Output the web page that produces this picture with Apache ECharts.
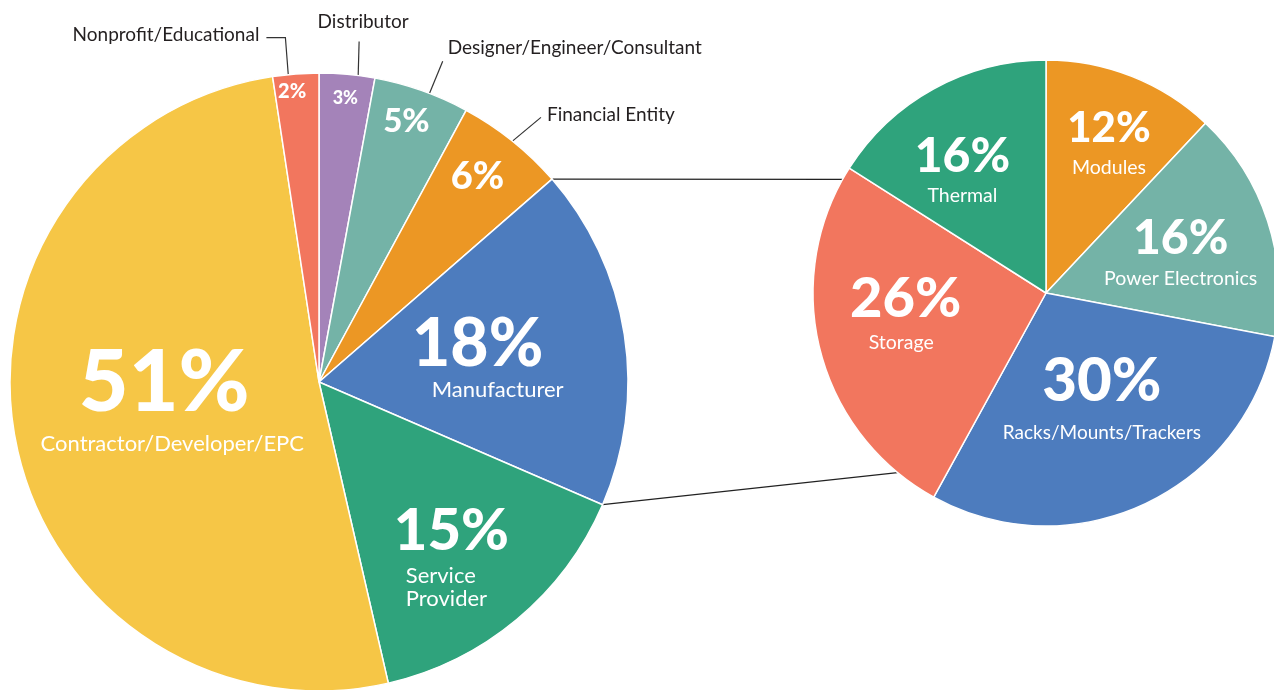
<!DOCTYPE html>
<html>
<head>
<meta charset="utf-8">
<script src="https://cdn.jsdelivr.net/npm/echarts@6/dist/echarts.min.js"></script>
<style>
  html, body { margin: 0; padding: 0; background: #fff; }
  #chart { width: 1274px; height: 690px; }
</style>
</head>
<body>
<div id="chart"></div>
<script>
// data (shares, labels show them rounded)
const leftNames = ['Distributor', 'Designer/Engineer/Consultant', 'Financial Entity', 'Manufacturer', 'Service Provider', 'Contractor/Developer/EPC', 'Nonprofit/Educational']
const leftValues = [2.9, 5.0, 5.7, 17.9, 14.9, 51.2, 2.4]
const rightNames = ['Modules', 'Power Electronics', 'Racks/Mounts/Trackers', 'Storage', 'Thermal']
const rightValues = [12, 16, 30, 26, 16]

// layout / style
const LEFT = { cx: 319, cy: 382, r: 309 }
const RIGHT = { cx: 1046, cy: 293, r: 233 }
const leftColors = ['#A483B9', '#74B3A7', '#EC9724', '#4D7CBE', '#2FA37C', '#F6C646', '#F2765E']
const rightColors = ['#EC9724', '#74B3A7', '#4D7CBE', '#F2765E', '#2FA37C']
const connectAngles = [299.2, 219.6]

const PCT_FONT = 'Lato, "Open Sans", sans-serif'
const NAME_FONT = 'Lato, "Open Sans", sans-serif'

// inner label: pct size / line height, name size / line height, offsets from default inside position
const leftInner = [
  { ps: 18, pl: 20, dx: 12, dy: -127 },
  { ps: 33, pl: 36, dx: 35, dy: -112 },
  { ps: 38, pl: 40, dx: 60, dy: -82 },
  { ps: 66, pl: 64, ns: 22, nl: 26, dx: 13, dy: 0, pPad: [0, 20, 0, 0], nPad: [0, 0, 0, 20] },
  { ps: 58, pl: 67, ns: 22, nl: 23, dx: -26, dy: 51, align: 'left', wrap: true, nPad: [0, 0, 0, 12] },
  { ps: 86, pl: 95, ns: 22, nl: 26, dx: 8, dy: -15, pPad: [0, 16, 0, 0] },
  { ps: 20, pl: 22, dx: -15, dy: -133 }
]
const rightInner = [
  { ps: 42, pl: 54, ns: 19.5, nl: 24, dx: 19, dy: -41 },
  { ps: 48, pl: 57, ns: 19.5, nl: 24, dx: 21, dy: -6 },
  { ps: 60, pl: 78, ns: 19, nl: 24, dx: 5, dy: -7 },
  { ps: 56, pl: 64, ns: 19.5, nl: 24, dx: -29, dy: -12, pPad: [0, 0, 0, 9] },
  { ps: 48, pl: 55, ns: 19.5, nl: 24, dx: -26, dy: -20 }
]
// outside labels for the thin slices of the left pie
const leftOuter = [
  { shift: 2.1, segs: [[1, -36]], off: [4, -10], align: 'center', vAlign: 'bottom' },
  { shift: 1.5, segs: [[14, -34]], off: [5, -13], align: 'left', vAlign: 'middle' },
  { shift: 0, segs: [[30, -25]], off: [6, -3], align: 'left', vAlign: 'middle' },
  null, null, null,
  { shift: -1.4, segs: [[-3, -39], [-19, 0]], off: [-7, -3], align: 'right', vAlign: 'middle' }
]

function polar(c, deg, rad) {
  const a = deg * Math.PI / 180
  return [c.cx + rad * Math.sin(a), c.cy - rad * Math.cos(a)]
}
function angleAt(values, i, part) {
  const total = values.reduce((a, b) => a + b, 0)
  let before = 0
  for (let k = 0; k < i; k++) before += values[k]
  return (before + values[i] * part) / total * 360
}

function innerData(names, values, colors, spec) {
  return names.map((name, i) => {
    const s = spec[i]
    return {
      name: name,
      value: values[i],
      itemStyle: { color: colors[i] },
      label: {
        rich: {
          p: { fontFamily: PCT_FONT, fontWeight: 900, fontSize: s.ps, lineHeight: s.pl, color: '#fff', padding: s.pPad || 0 },
          n: { fontFamily: NAME_FONT, fontSize: s.ns || 20, lineHeight: s.nl || 24, color: '#fff', padding: s.nPad || 0 }
        }
      }
    }
  })
}
function innerLabel(spec) {
  return {
    show: true,
    position: 'inside',
    formatter: p => {
      const s = spec[p.dataIndex]
      let t = `{p|${Math.round(p.value)}%}`
      if (s.ns) {
        const lines = s.wrap ? p.name.split(' ') : [p.name]
        t += '\n' + lines.map(l => `{n|${l}}`).join('\n')
      }
      return t
    }
  }
}
function innerLayout(spec) {
  return p => {
    const s = spec[p.dataIndex]
    const o = { dx: s.dx, dy: s.dy }
    if (s.align) o.align = s.align
    return o
  }
}

const chart = echarts.init(document.getElementById('chart'))

const upA = polar(LEFT, angleAt(leftValues, 3, 0), LEFT.r)
const loA = polar(LEFT, angleAt(leftValues, 3, 1), LEFT.r)
const upB = polar(RIGHT, connectAngles[0], RIGHT.r)
const loB = polar(RIGHT, connectAngles[1], RIGHT.r)

chart.setOption({
  backgroundColor: '#fff',
  animation: false,
  graphic: [
    { type: 'line', z: 0, shape: { x1: upA[0], y1: upA[1], x2: upB[0], y2: upB[1] }, style: { stroke: '#222', lineWidth: 1.2 } },
    { type: 'line', z: 0, shape: { x1: loA[0], y1: loA[1], x2: loB[0], y2: loB[1] }, style: { stroke: '#222', lineWidth: 1.2 } }
  ],
  series: [
    {
      type: 'pie',
      center: [LEFT.cx, LEFT.cy],
      radius: [0, LEFT.r],
      startAngle: 90,
      silent: true,
      itemStyle: { borderColor: '#fff', borderWidth: 1.5 },
      label: innerLabel(leftInner),
      labelLine: { show: false },
      labelLayout: innerLayout(leftInner),
      data: innerData(leftNames, leftValues, leftColors, leftInner)
    },
    {
      type: 'pie',
      center: [LEFT.cx, LEFT.cy],
      radius: [0, LEFT.r],
      startAngle: 90,
      silent: true,
      avoidLabelOverlap: false,
      itemStyle: { color: 'rgba(0,0,0,0)', borderWidth: 0 },
      label: {
        show: true,
        position: 'outside',
        formatter: '{b}',
        fontFamily: NAME_FONT,
        fontSize: 19,
        color: '#231f20'
      },
      labelLine: { show: true, lineStyle: { color: '#333', width: 1.2 } },
      labelLayout: p => {
        const o = leftOuter[p.dataIndex]
        if (!o) return {}
        const a = polar(LEFT, angleAt(leftValues, p.dataIndex, 0.5) + o.shift, LEFT.r - 2)
        const pts = [a]
        let cur = a
        o.segs.forEach(s => {
          cur = [cur[0] + s[0], cur[1] + s[1]]
          pts.push(cur)
        })
        if (pts.length < 3) pts.push(cur)
        return {
          x: cur[0] + o.off[0],
          y: cur[1] + o.off[1],
          align: o.align,
          verticalAlign: o.vAlign,
          labelLinePoints: pts
        }
      },
      data: leftNames.map((name, i) => ({
        name: name,
        value: leftValues[i],
        label: { show: !!leftOuter[i] },
        labelLine: { show: !!leftOuter[i] }
      }))
    },
    {
      type: 'pie',
      center: [RIGHT.cx, RIGHT.cy],
      radius: [0, RIGHT.r],
      startAngle: 90,
      silent: true,
      itemStyle: { borderColor: '#fff', borderWidth: 1.5 },
      label: innerLabel(rightInner),
      labelLine: { show: false },
      labelLayout: innerLayout(rightInner),
      data: innerData(rightNames, rightValues, rightColors, rightInner)
    }
  ]
})
</script>
</body>
</html>
